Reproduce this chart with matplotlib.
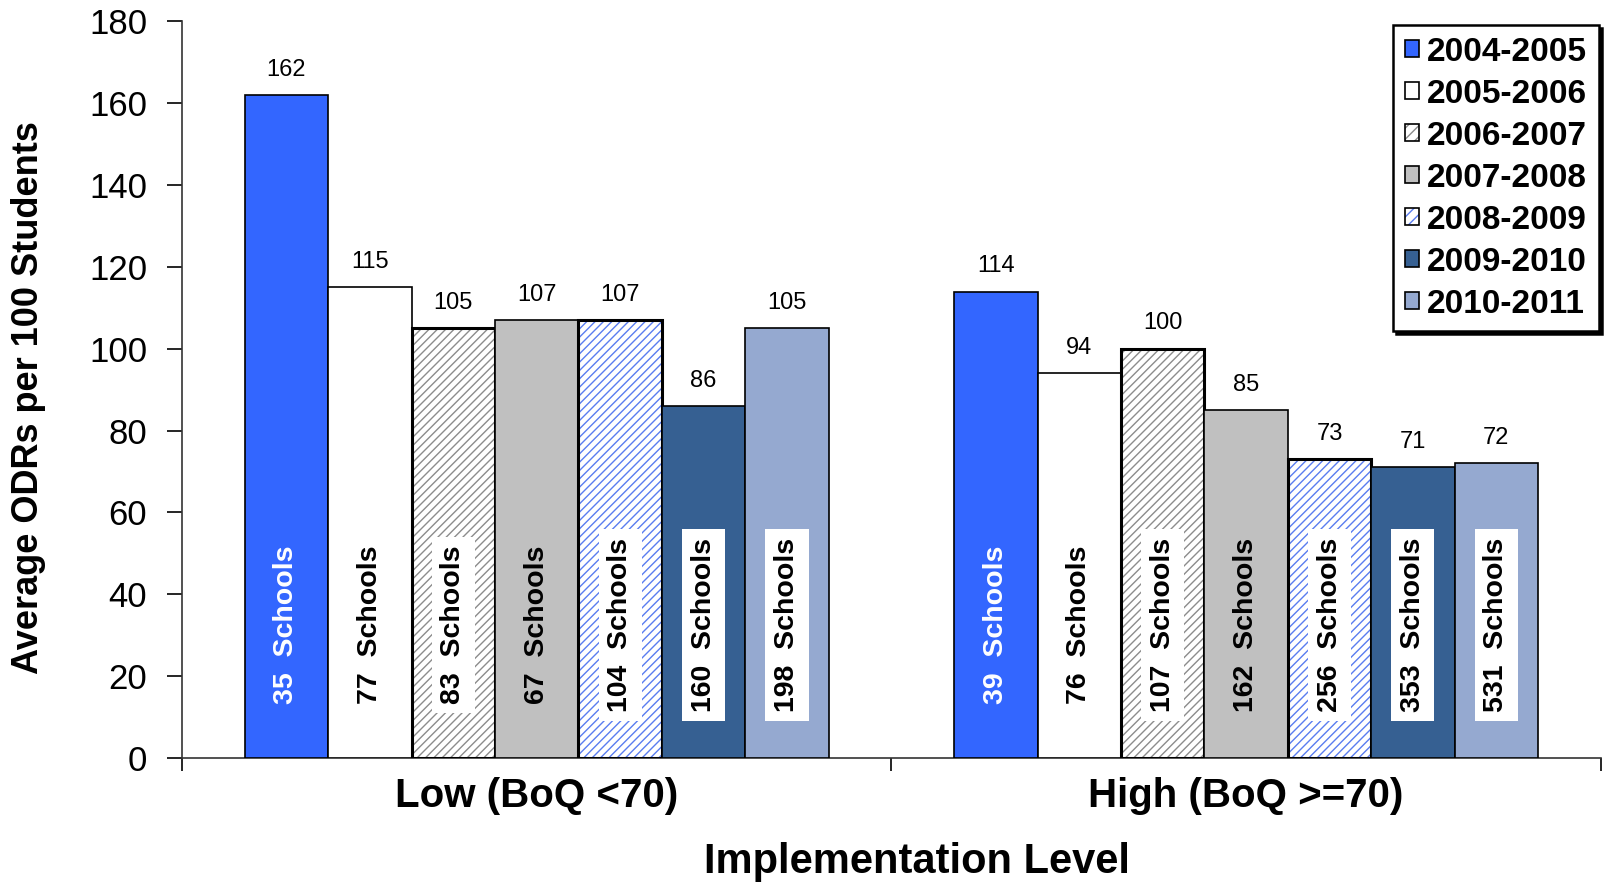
import numpy as np
import matplotlib.pyplot as plt
from matplotlib.patches import Patch

plt.rcParams['font.family'] = ['Liberation Sans', 'DejaVu Sans']
plt.rcParams['hatch.linewidth'] = 1.0

# ODR averages by implementation level and school year
levels = ['Low (BoQ <70)', 'High (BoQ >=70)']
years = ['2004-2005', '2005-2006', '2006-2007', '2007-2008',
         '2008-2009', '2009-2010', '2010-2011']
low_odr = [162, 115, 105, 107, 107, 86, 105]
high_odr = [114, 94, 100, 85, 73, 71, 72]
low_schools = [35, 77, 83, 67, 104, 160, 198]
high_schools = [39, 76, 107, 162, 256, 353, 531]

face = ['#3366FF', 'white', 'white', '#C0C0C0', 'white', '#366092', '#95A9D0']
hatch = [None, None, '////', None, '////', None, None]
hatch_col = [None, None, '#8C8C8C', None, '#5A7DF0', None, None]
boxed = [False, False, True, False, True, True, True]
txt_col = ['white'] + ['black'] * 6

fig = plt.figure(figsize=(16.04, 8.83), dpi=100)
ax = fig.add_axes([0.1135, 0.1416, 0.8845, 0.8341])

x = np.arange(len(levels))
w = 0.1176
odr = np.array([low_odr, high_odr])
schools = np.array([low_schools, high_schools])

handles = []
for i, yr in enumerate(years):
    pos = x + (i - 3) * w
    vals = odr[:, i]
    if hatch[i]:
        # hatch drawn in its own colour, black outline on top
        ax.bar(pos, vals, w, color='white', edgecolor=hatch_col[i],
               hatch=hatch[i], linewidth=0, zorder=2)
        ax.bar(pos, vals, w, facecolor='none', edgecolor='black',
               linewidth=2.2, zorder=3)
        handles.append((Patch(facecolor='white', edgecolor=hatch_col[i],
                              hatch='///', linewidth=0),
                        Patch(facecolor='none', edgecolor='black',
                              linewidth=1.2)))
    else:
        ax.bar(pos, vals, w, color=face[i], edgecolor='black',
               linewidth=1.2, zorder=3)
        handles.append(Patch(facecolor=face[i], edgecolor='black',
                             linewidth=1.2))
    for p, v, n in zip(pos, vals, schools[:, i]):
        ax.text(p, v + 3.5, str(v), ha='center', va='bottom', fontsize=17,
                zorder=5)
        kw = {}
        if boxed[i]:
            kw['bbox'] = dict(boxstyle='square,pad=0.3', facecolor='white',
                              edgecolor='none')
        ax.text(p, 32.5, f'{n}  Schools', rotation=90, ha='center',
                va='center', fontsize=20.5, fontweight='bold',
                color=txt_col[i], zorder=6, **kw)

ax.set_xlim(-0.5, 1.5)
ax.set_ylim(0, 180)
ax.set_yticks(np.arange(0, 181, 20))
ax.set_xticks(x)
ax.set_xticklabels(levels, fontsize=29, fontweight='bold')
ax.set_xticks([-0.5, 0.5, 1.5], minor=True)
ax.tick_params(axis='x', which='major', length=0, pad=14)
ax.tick_params(axis='x', which='minor', length=9, width=1.2, direction='out')
ax.tick_params(axis='y', labelsize=25, length=11, width=1.2, pad=14)

for s in ['top', 'right']:
    ax.spines[s].set_visible(False)
for s in ['left', 'bottom']:
    ax.spines[s].set_color('#333333')
    ax.spines[s].set_linewidth(1.2)

ax.set_ylabel('Average ODRs per 100 Students', fontsize=26, fontweight='bold')
ax.yaxis.set_label_coords(-0.096, 0.49)
fig.text(0.572, 0.0235, 'Implementation Level', fontsize=30,
         fontweight='bold', ha='center', va='center')

leg = ax.legend(handles, years, loc='upper right',
                bbox_to_anchor=(1599 / 1604, 1 - 25 / 883),
                bbox_transform=fig.transFigure,
                prop={'size': 24, 'weight': 'bold'},
                handlelength=0.42, handleheight=0.42, handletextpad=0.25,
                labelspacing=0.33, borderpad=0.35, borderaxespad=0,
                fancybox=False, framealpha=1, edgecolor='black',
                shadow={'color': 'black', 'alpha': 1})
leg.get_frame().set_linewidth(1.8)

plt.savefig('out.png', dpi=100)
